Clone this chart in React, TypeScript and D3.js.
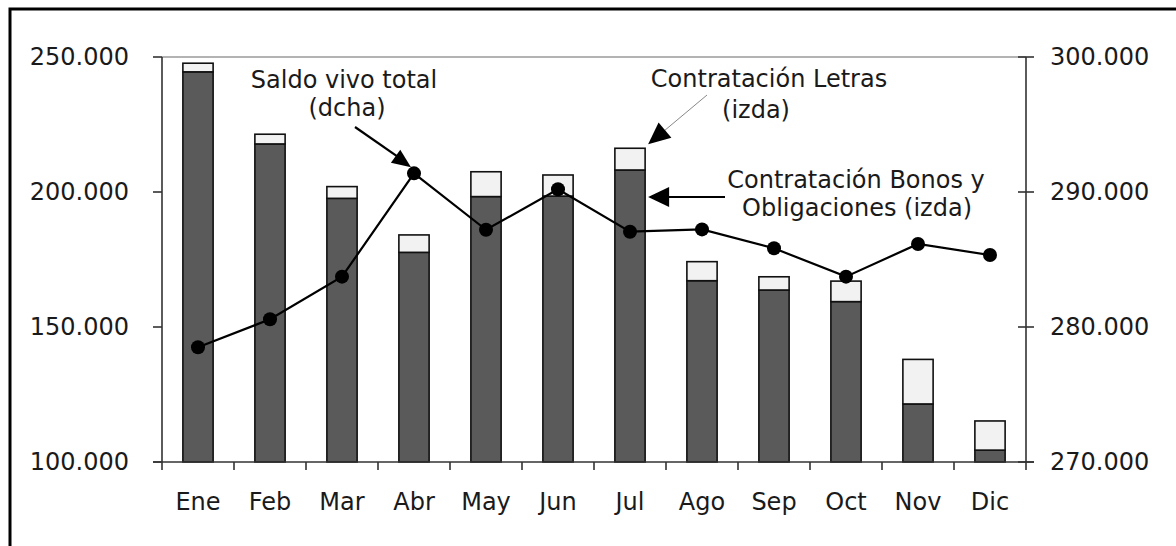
import React from "react";
import * as d3 from "d3";

const width = 1176;
const height = 546;
const margin = { top: 57, right: 150, bottom: 84, left: 162 };
const font = "'DejaVu Sans', Verdana, sans-serif";

const months = ["Ene", "Feb", "Mar", "Abr", "May", "Jun", "Jul", "Ago", "Sep", "Oct", "Nov", "Dic"];
// contratación bonos y obligaciones (izda)
const bonos = [244500, 217800, 197650, 177650, 198300, 198500, 208150, 167150, 163700, 159400, 121500, 104400];
// contratación letras (izda)
const letras = [3200, 3600, 4350, 6450, 9200, 7800, 8050, 7050, 4900, 7600, 16500, 10800];
// saldo vivo total (dcha)
const saldo = [278500, 280570, 283730, 291380, 287200, 290200, 287060, 287230, 285830, 283730, 286150, 285330];

const leftTicks = [100000, 150000, 200000, 250000];
const rightTicks = [270000, 280000, 290000, 300000];

const fmt = (v: number) => d3.format(",")(v).replace(/,/g, ".");

const arrowHead = (x0: number, y0: number, x1: number, y1: number, len: number, w: number) => {
  const a = Math.atan2(y1 - y0, x1 - x0);
  const bx = x1 - len * Math.cos(a);
  const by = y1 - len * Math.sin(a);
  const px = (w / 2) * Math.sin(a);
  const py = (w / 2) * Math.cos(a);
  return `${x1},${y1} ${bx + px},${by - py} ${bx - px},${by + py}`;
};

export default function App() {
  const innerW = width - margin.left - margin.right;
  const innerH = height - margin.top - margin.bottom;
  const x0 = margin.left;
  const x1 = margin.left + innerW;
  const yTop = margin.top;
  const yBot = margin.top + innerH;

  const x = d3
    .scaleBand<string>()
    .domain(months)
    .range([x0, x1])
    .paddingInner(0.58)
    .paddingOuter(0.29);
  const step = x.step();
  const bw = x.bandwidth();

  const yL = d3.scaleLinear().domain([100000, 250000]).range([yBot, yTop]).clamp(true);
  const yR = d3.scaleLinear().domain([270000, 300000]).range([yBot, yTop]);

  const table = months.map((m, i) => ({ month: m, bonos: bonos[i], letras: letras[i] }));
  const stack = d3.stack<any>().keys(["bonos", "letras"])(table);
  const fills: Record<string, string> = { bonos: "#5a5a5a", letras: "#f2f2f2" };

  const line = d3
    .line<number>()
    .x((_, i) => (x(months[i]) as number) + bw / 2)
    .y((d) => yR(d));

  const boundaries = d3.range(months.length + 1).map((i) => x0 + i * step);

  // annotation anchors derived from the scales
  const abrX = (x("Abr") as number) + bw / 2;
  const abrY = yR(saldo[3]);
  const julRight = (x("Jul") as number) + bw;
  const julTop = yL(bonos[6] + letras[6]);

  const tip1 = { x: abrX - 3, y: abrY - 6 };
  const from1 = { x: 355, y: 127 };
  const tip2 = { x: julRight + 3, y: julTop - 4 };
  const from2 = { x: 707, y: 95 };
  const tip3 = { x: julRight + 3, y: 197 };
  const from3 = { x: 725, y: 197 };

  const textStyle = { fontFamily: font, fontSize: 24, fill: "#1a1a1a" } as const;

  return (
    <svg
      width={width}
      height={height}
      style={{ position: "absolute", left: 0, top: 0, background: "#fff" }}
    >
      <rect x={10} y={9} width={width} height={height} fill="#fff" stroke="#000" strokeWidth={3} />

      {/* top frame line of plot */}
      <line x1={x0} x2={x1} y1={yTop} y2={yTop} stroke="#9a9a9a" strokeWidth={1.5} />

      {/* bars */}
      {stack.map((layer) => (
        <g key={layer.key}>
          {layer.map((d, i) => (
            <rect
              key={i}
              x={x(months[i])}
              y={yL(d[1])}
              width={bw}
              height={yL(d[0]) - yL(d[1])}
              fill={fills[layer.key]}
              stroke="#111"
              strokeWidth={1.6}
            />
          ))}
        </g>
      ))}

      {/* axes */}
      <line x1={x0} x2={x0} y1={yTop} y2={yBot} stroke="#333" strokeWidth={1.6} />
      <line x1={x1} x2={x1} y1={yTop} y2={yBot} stroke="#333" strokeWidth={1.6} />
      <line x1={x0 - 9} x2={x1 + 8} y1={yBot} y2={yBot} stroke="#333" strokeWidth={1.6} />

      {leftTicks.map((t) => (
        <g key={t}>
          <line x1={x0 - 9} x2={x0} y1={yL(t)} y2={yL(t)} stroke="#333" strokeWidth={1.6} />
          <text x={x0 - 33} y={yL(t) + 8} textAnchor="end" {...textStyle}>
            {fmt(t)}
          </text>
        </g>
      ))}
      {rightTicks.map((t) => (
        <g key={t}>
          <line x1={x1 - 8} x2={x1 + 8} y1={yR(t)} y2={yR(t)} stroke="#333" strokeWidth={1.6} />
          <text x={x1 + 24} y={yR(t) + 8} textAnchor="start" {...textStyle}>
            {fmt(t)}
          </text>
        </g>
      ))}
      {boundaries.map((b, i) => (
        <line key={i} x1={b} x2={b} y1={yBot} y2={yBot + 8} stroke="#333" strokeWidth={1.6} />
      ))}
      {months.map((m) => (
        <text
          key={m}
          x={(x(m) as number) + bw / 2}
          y={yBot + 48}
          textAnchor="middle"
          {...textStyle}
        >
          {m}
        </text>
      ))}

      {/* saldo vivo line */}
      <path d={line(saldo) || ""} fill="none" stroke="#000" strokeWidth={2.2} />
      {saldo.map((v, i) => (
        <circle key={i} cx={(x(months[i]) as number) + bw / 2} cy={yR(v)} r={7} fill="#000" />
      ))}

      {/* annotations */}
      <text x={344} y={88} textAnchor="middle" {...textStyle}>Saldo vivo total</text>
      <text x={347} y={116} textAnchor="middle" {...textStyle}>(dcha)</text>
      <line x1={from1.x} y1={from1.y} x2={tip1.x - 8} y2={tip1.y - 7} stroke="#000" strokeWidth={2.2} />
      <polygon points={arrowHead(from1.x, from1.y, tip1.x, tip1.y, 19, 16)} fill="#000" />

      <text x={769} y={87} textAnchor="middle" {...textStyle}>Contratación Letras</text>
      <text x={756} y={118} textAnchor="middle" {...textStyle}>(izda)</text>
      <line x1={from2.x} y1={from2.y} x2={tip2.x + 12} y2={tip2.y - 10} stroke="#888" strokeWidth={1} />
      <polygon points={arrowHead(from2.x, from2.y, tip2.x, tip2.y, 22, 20)} fill="#000" />

      <text x={856} y={188} textAnchor="middle" {...textStyle}>Contratación Bonos y</text>
      <text x={857} y={216} textAnchor="middle" {...textStyle}>Obligaciones (izda)</text>
      <line x1={from3.x} y1={from3.y} x2={tip3.x + 15} y2={tip3.y} stroke="#000" strokeWidth={2} />
      <polygon points={arrowHead(from3.x, from3.y, tip3.x, tip3.y, 21, 20)} fill="#000" />
    </svg>
  );
}
